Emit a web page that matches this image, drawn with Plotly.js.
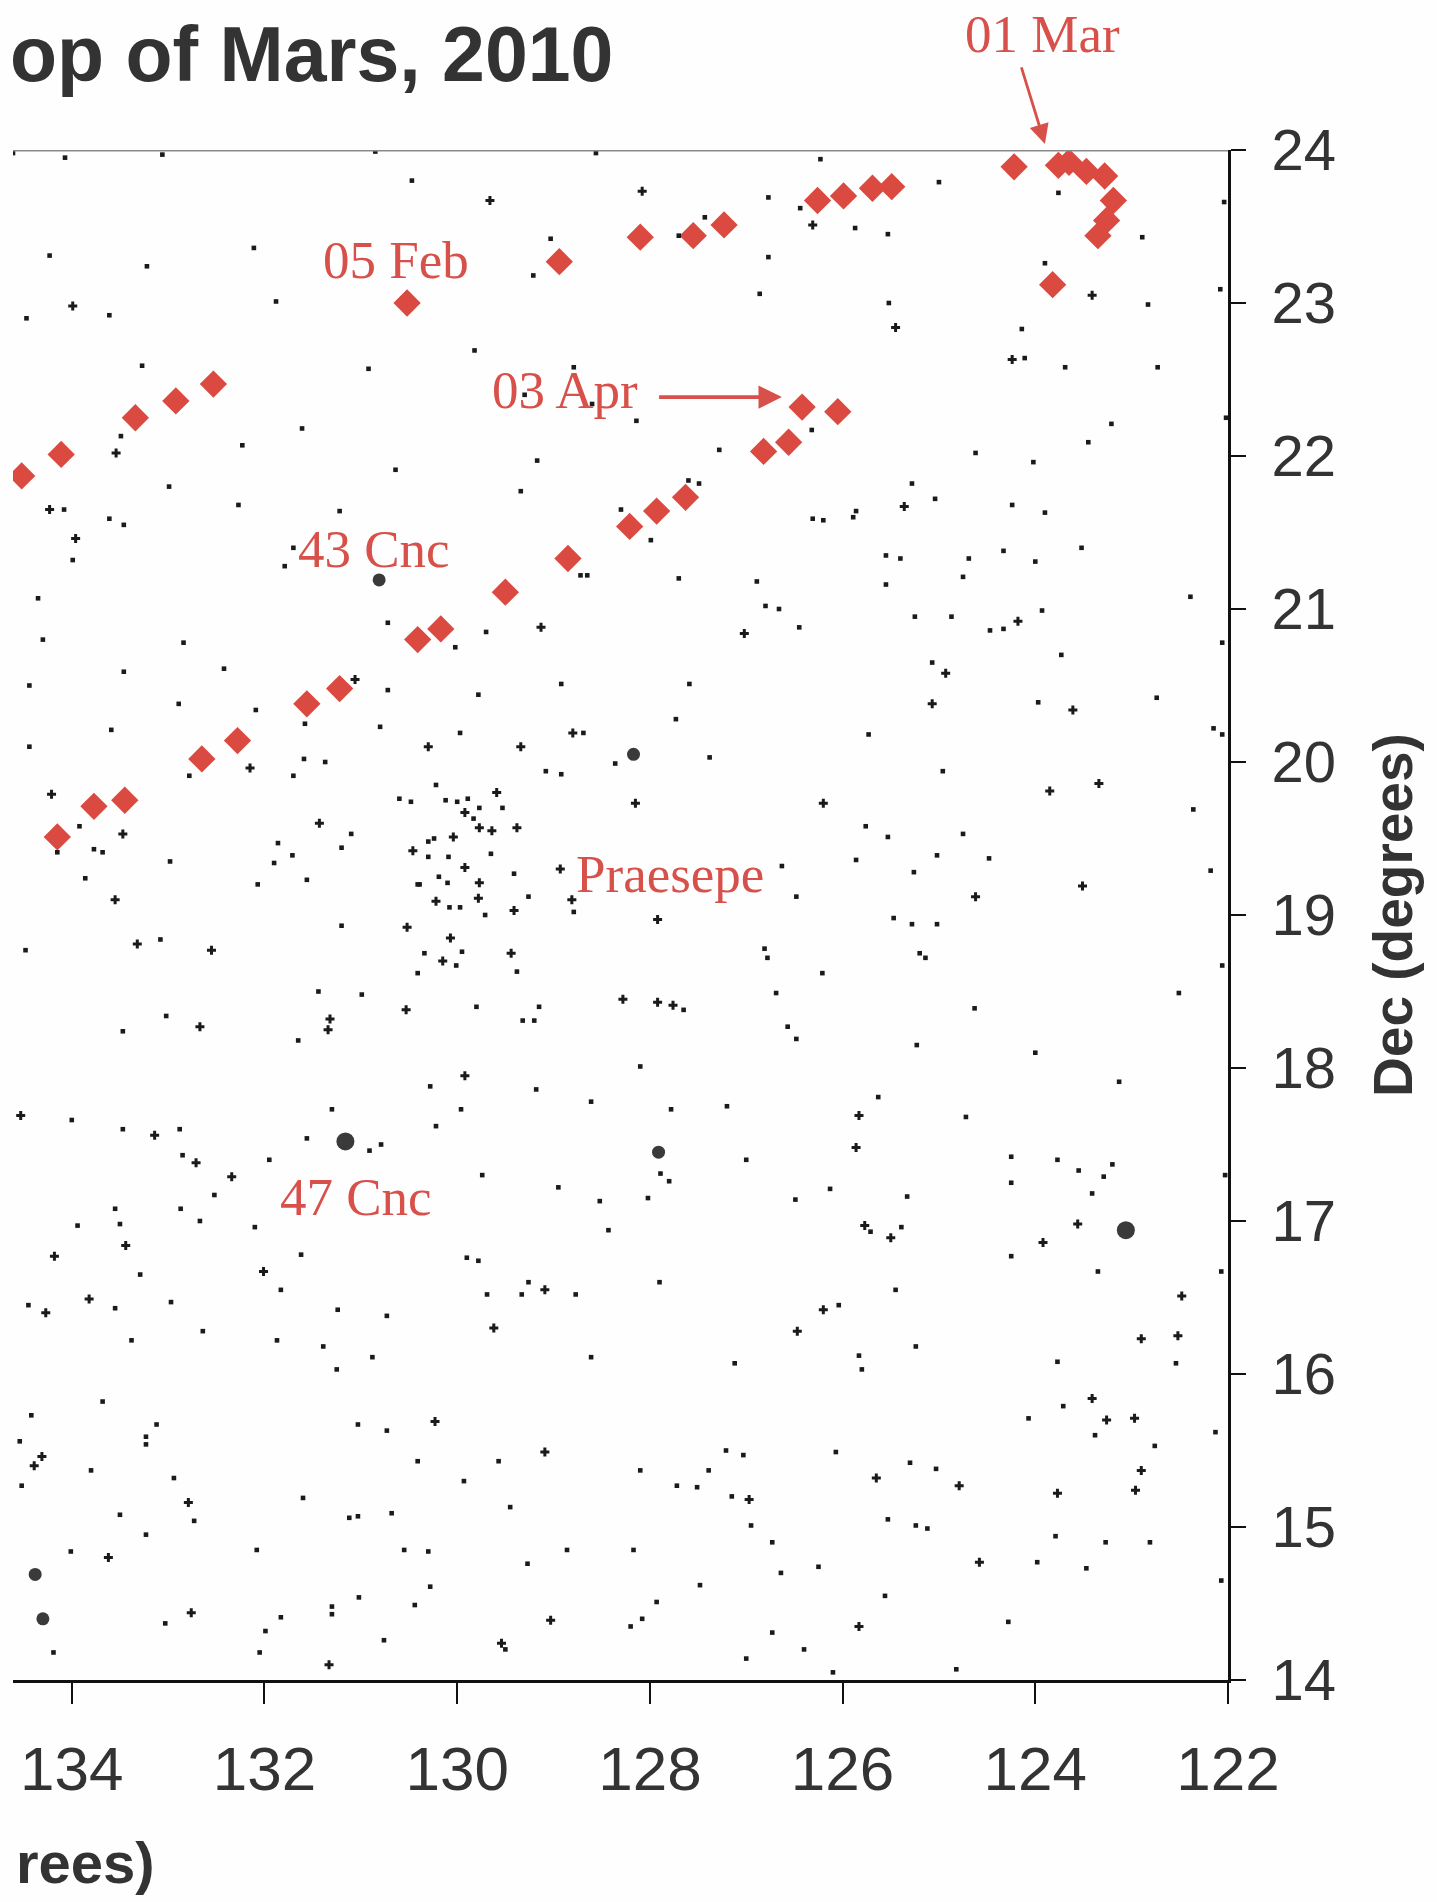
<!DOCTYPE html>
<html><head><meta charset="utf-8">
<script src="https://cdn.plot.ly/plotly-3.0.1.min.js"></script>
<style>html,body{margin:0;padding:0;background:#fefefe}</style>
</head><body><div id="chart" style="width:1437px;height:1902px"></div>
<script>
// Mars positions (RA deg, Dec deg)
const marsUpper = [[134.52,21.87],[134.11,22.01],[133.34,22.25],[132.92,22.36],[132.53,22.47],[130.52,23.00],[128.94,23.27],[128.10,23.43],[127.55,23.44],[127.23,23.51],[126.26,23.67],[125.99,23.70],[125.69,23.75],[125.49,23.76],[124.22,23.89],[123.76,23.90],[123.65,23.92],[123.47,23.86],[123.28,23.83],[123.19,23.67],[123.26,23.54],[123.35,23.44],[123.82,23.12]];
const marsLower = [[126.05,22.29],[126.42,22.32],[126.56,22.09],[126.82,22.03],[127.63,21.73],[127.93,21.64],[128.21,21.54],[128.85,21.33],[129.50,21.11],[130.17,20.87],[130.41,20.80],[131.22,20.48],[131.56,20.38],[132.28,20.14],[132.65,20.02],[133.45,19.75],[133.77,19.71],[134.15,19.51]];

// faint field stars
const faintStars = [
[134.61,23.98],[134.07,23.95],[133.06,23.97],[130.47,23.80],[134.23,23.31],[133.22,23.24],[132.11,23.36],[134.47,22.90],[133.61,22.92],[131.88,23.01],[133.27,22.59],[130.92,22.57],[131.61,22.18],[133.49,22.13],[132.23,22.07],[130.64,21.91],[132.99,21.80],[134.08,21.65],[132.27,21.68],[131.22,21.64],[133.61,21.59],[133.46,21.55],[133.99,21.32],[131.70,21.40],[131.79,21.28],[134.35,21.07],[134.30,20.80],[132.84,20.78],[130.72,20.91],[130.85,23.99],[128.56,23.98],
[126.77,23.69],[126.23,23.94],[126.44,23.62],[127.43,23.56],[127.70,23.44],[129.03,23.42],[129.21,23.18],[126.77,23.30],[126.86,23.06],[129.82,22.69],[128.79,22.58],[129.30,22.40],[128.60,22.34],[128.14,22.23],[126.32,22.17],[127.28,22.04],[129.17,21.97],[129.34,21.77],[127.60,21.84],[127.49,21.82],[128.30,21.65],[127.99,21.45],[126.31,21.59],[126.20,21.58],[128.72,21.22],[128.65,21.22],[127.70,21.20],[126.89,21.18],[126.80,21.02],[126.66,21.00],[129.70,20.85],[130.02,20.75],[126.45,20.88],
[125.00,23.79],[123.76,23.72],[122.04,23.66],[125.87,23.49],[125.53,23.45],[122.89,23.43],[123.90,23.26],[122.83,22.99],[122.08,23.09],[125.52,23.00],[124.14,22.83],[124.11,22.64],[123.69,22.58],[122.73,22.58],[122.02,22.25],[123.21,22.21],[123.45,22.09],[124.62,22.02],[124.02,21.96],[125.28,21.82],[125.04,21.72],[125.89,21.60],[125.86,21.64],[124.24,21.68],[123.90,21.63],[123.52,21.40],[125.55,21.35],[125.40,21.33],[124.69,21.33],[124.33,21.38],[124.00,21.31],[124.75,21.21],[125.55,21.16],[122.39,21.08],[125.25,20.95],[124.87,20.95],[123.93,20.99],[124.47,20.86],[124.33,20.87],[123.73,20.70],[122.06,20.78],
[134.44,20.50],[133.46,20.59],[132.42,20.61],[132.89,20.38],[132.09,20.34],[130.72,20.47],[130.80,20.23],[133.59,20.21],[134.44,20.10],[131.58,20.25],[132.78,19.91],[131.70,19.91],[131.59,20.02],[131.37,20.00],[133.92,19.58],[134.15,19.41],[133.77,19.43],[133.68,19.41],[132.98,19.35],[133.86,19.24],[131.10,19.53],[131.86,19.47],[131.20,19.44],[131.71,19.39],[131.90,19.34],[131.56,19.23],[132.07,19.20],[130.60,19.76],[130.48,19.74],[130.41,19.20],[131.20,18.93],[130.41,18.62],[134.48,18.77],[133.08,18.84],[131.44,18.50],[130.99,18.48],[133.02,18.34],[133.47,18.24],[131.65,18.18],[134.00,17.66],[133.47,17.60],[132.88,17.60],[132.85,17.43],[131.95,17.40],[131.30,17.73],[131.56,17.54],[130.91,17.46],[130.79,17.50],
[129.78,20.44],[128.92,20.51],[127.59,20.51],[127.73,20.28],[129.97,20.19],[128.69,20.19],[128.36,19.99],[127.38,20.03],[129.08,19.94],[128.92,19.92],[130.22,19.85],[130.12,19.75],[130.00,19.74],[129.89,19.76],[129.53,19.70],[129.77,19.70],[129.83,19.63],[130.30,19.48],[130.24,19.50],[130.30,19.38],[130.09,19.38],[129.65,19.40],[130.39,19.20],[130.19,19.25],[130.10,19.21],[129.41,19.27],[130.08,19.05],[129.97,19.05],[129.71,19.00],[129.26,19.12],[128.79,19.02],[126.63,19.32],[126.48,19.12],[130.34,18.75],[130.01,18.67],[129.95,18.76],[129.38,18.63],[126.81,18.78],[126.78,18.72],[126.21,18.62],[129.80,18.40],[129.15,18.40],[129.32,18.31],[129.20,18.31],[127.65,18.38],[126.69,18.49],[126.57,18.27],[126.48,18.19],[128.10,18.01],[130.28,17.88],[129.18,17.86],[128.61,17.78],[129.96,17.73],[130.22,17.62],[127.78,17.73],[127.20,17.75],[127.00,17.40],
[125.07,20.65],[123.97,20.39],[122.74,20.42],[122.15,20.22],[122.06,20.18],[125.73,20.18],[124.96,19.94],[122.36,19.69],[125.76,19.58],[125.53,19.51],[124.75,19.53],[125.86,19.36],[125.02,19.39],[124.48,19.37],[125.26,19.28],[122.18,19.29],[125.47,18.98],[125.28,18.94],[125.02,18.94],[125.20,18.75],[125.14,18.72],[122.06,18.67],[122.51,18.49],[124.63,18.39],[125.23,18.15],[124.00,18.10],[123.13,17.91],[125.63,17.81],[124.72,17.68],[124.25,17.42],[123.77,17.40],[123.20,17.37],[123.55,17.33],
[132.52,17.17],[133.55,17.08],[132.87,17.08],[133.94,16.97],[133.50,16.98],[132.67,17.00],[132.10,16.96],[133.29,16.65],[131.62,16.78],[131.83,16.55],[134.45,16.45],[133.55,16.43],[132.97,16.47],[133.38,16.22],[132.64,16.28],[131.87,16.22],[131.39,16.18],[131.24,16.42],[130.73,16.38],[130.88,16.11],[131.25,16.03],[133.68,15.82],[134.42,15.73],[134.54,15.56],[133.12,15.67],[133.23,15.59],[133.23,15.54],[133.80,15.37],[134.52,15.27],[132.94,15.32],[132.73,15.04],[133.50,15.08],[133.23,14.95],[134.01,14.84],[132.08,14.85],[131.60,15.19],[131.03,15.67],[130.73,15.63],[131.12,15.06],[131.03,15.07],[130.68,15.09],[130.55,14.85],[130.41,15.43],[134.19,14.18],[133.03,14.37],[131.83,14.41],[131.99,14.32],[132.05,14.18],[131.30,14.48],[131.30,14.43],[131.02,14.54],[130.44,14.49],[130.76,14.26],
[129.74,17.30],[128.95,17.22],[128.52,17.13],[128.02,17.15],[127.89,17.31],[127.80,17.26],[126.49,17.14],[128.43,16.94],[129.90,16.76],[129.78,16.74],[129.69,16.52],[129.33,16.52],[129.26,16.60],[128.77,16.52],[127.90,16.60],[128.61,16.11],[127.12,16.07],[129.57,15.43],[129.93,15.30],[129.45,15.13],[128.10,15.37],[127.72,15.27],[127.51,15.26],[127.39,15.37],[127.21,15.50],[127.03,15.47],[127.15,15.20],[126.95,15.01],[126.73,14.90],[126.64,14.70],[126.25,14.74],[130.30,14.84],[130.28,14.61],[129.27,14.76],[128.86,14.85],[128.17,14.85],[127.48,14.62],[127.93,14.51],[128.08,14.40],[128.20,14.35],[126.73,14.31],[126.40,14.20],[127.00,14.14],[129.50,14.20],
[126.13,17.21],[125.33,17.16],[124.25,17.25],[123.29,17.29],[123.41,17.18],[125.71,16.93],[125.39,16.96],[124.25,16.77],[123.35,16.67],[122.07,16.67],[125.45,16.55],[126.04,16.45],[122.54,16.07],[125.24,16.18],[125.83,16.12],[125.80,16.03],[123.77,16.08],[123.71,15.79],[124.07,15.71],[123.38,15.60],[122.76,15.53],[122.13,15.62],[126.07,15.49],[125.30,15.42],[125.03,15.38],[125.53,15.05],[125.24,15.01],[125.12,14.99],[123.79,14.94],[123.27,14.90],[122.81,14.90],[123.98,14.77],[123.47,14.73],[122.07,14.65],[125.56,14.55],[124.28,14.38],[124.82,14.07],[126.10,14.05],[122.03,17.30]
];

// slightly brighter field stars (small crosses)
const crossStars = [
[133.99,22.98],[133.54,22.02],[134.23,21.65],[133.96,21.46],
[129.66,23.67],[128.08,23.73],[126.31,23.51],[129.13,20.88],[127.02,20.84],
[123.41,23.05],[125.45,22.84],[124.24,22.63],[125.36,21.67],[124.18,20.92],
[131.06,20.54],[132.15,19.96],[134.21,19.79],[133.47,19.53],[133.55,19.10],[131.43,19.60],[130.46,19.42],[130.52,18.92],[133.32,18.81],[132.55,18.77],[130.53,18.38],[132.67,18.27],[131.32,18.32],[131.34,18.25],[134.53,17.69],[133.14,17.56],[132.71,17.38],
[128.80,20.19],[130.30,20.10],[129.34,20.10],[129.59,19.80],[129.92,19.67],[130.04,19.51],[129.77,19.57],[129.64,19.55],[129.38,19.57],[128.15,19.73],[129.92,19.31],[129.77,19.21],[128.93,19.30],[130.22,19.09],[129.78,19.11],[129.41,19.03],[128.81,19.10],[127.92,18.97],[126.20,19.73],[130.07,18.85],[130.15,18.70],[129.44,18.75],[128.28,18.45],[127.92,18.43],[127.76,18.41],[129.92,17.95],
[124.93,20.58],[125.07,20.38],[123.61,20.34],[123.85,19.81],[123.34,19.86],[124.62,19.12],[123.51,19.19],[125.83,17.69],[125.86,17.48],
[132.34,17.29],[133.44,16.84],[134.18,16.77],[132.01,16.67],[134.27,16.40],[133.82,16.49],[134.31,15.46],[134.39,15.40],[132.79,15.16],[133.62,14.80],[132.76,14.44],[131.33,14.10],
[129.09,16.55],[129.62,16.30],[126.20,16.42],[126.47,16.28],[130.23,15.69],[129.09,15.49],[126.97,15.18],[129.03,14.39],[129.54,14.24],
[125.77,16.97],[125.50,16.89],[123.56,16.98],[123.92,16.86],[122.48,16.51],[122.90,16.23],[122.52,16.25],[123.41,15.84],[123.26,15.70],[122.97,15.71],[125.65,15.32],[124.79,15.27],[122.90,15.37],[122.96,15.24],[123.77,15.22],[124.58,14.77],[125.83,14.35]
];

// bright stars (43 Cnc etc.) and brightest (47 Cnc etc.)
const brightStars = [[130.81,21.19],[128.17,20.05],[127.91,17.45],[134.38,14.69],[134.30,14.40]];
const brightestStars = [[131.16,17.52],[123.06,16.94]];

const xTicks = [134,132,130,128,126,124,122];
const yTicks = [14,15,16,17,18,19,20,21,22,23,24];

const RED = '#d8504a';
const INK = '#1a1a1a';
const SERIF = 'Liberation Serif, Times New Roman, serif';
const SANS = 'Liberation Sans, Arial, sans-serif';

const marsAll = marsUpper.concat(marsLower);
const traces = [
  {x: marsAll.map(p=>p[0]), y: marsAll.map(p=>p[1]), mode:'markers', type:'scatter',
   marker:{symbol:'diamond', size:21, color:'#db4a40', line:{width:0}}},
  {x: faintStars.map(p=>p[0]), y: faintStars.map(p=>p[1]), mode:'markers', type:'scatter',
   marker:{symbol:'square', size:4.6, color:INK, line:{width:0}}},
  {x: crossStars.map(p=>p[0]), y: crossStars.map(p=>p[1]), mode:'markers', type:'scatter',
   marker:{symbol:'cross', size:7.5, color:INK, line:{width:0}}},
  {x: brightStars.map(p=>p[0]), y: brightStars.map(p=>p[1]), mode:'markers', type:'scatter',
   marker:{symbol:'circle', size:13, color:'#3a3a3a', line:{width:0}}},
  {x: brightestStars.map(p=>p[0]), y: brightestStars.map(p=>p[1]), mode:'markers', type:'scatter',
   marker:{symbol:'circle', size:18, color:'#3a3a3a', line:{width:0}}}
];

function lab(text, x, y, yref){
  return {text:text, x:x, y:y, xref:'x', yref:yref||'y', showarrow:false, xanchor:'center', yanchor:'middle',
          font:{family:SERIF, size:53, color:RED}};
}

const layout = {
  width:1437, height:1902,
  margin:{l:13, r:209, t:150, b:222},
  paper_bgcolor:'#fefefe', plot_bgcolor:'#fefefe',
  showlegend:false, hovermode:false,
  xaxis:{range:[134.61,122], tickvals:xTicks, ticktext:xTicks.map(String), ticks:'outside', ticklen:21, tickwidth:2,
         tickcolor:'#111', showline:true, linewidth:3, linecolor:'#111', showgrid:false, zeroline:false,
         ticklabelstandoff:12, tickfont:{family:'Liberation Sans Narrow, Arial Narrow, '+SANS, size:62, color:'#333'}},
  yaxis:{range:[14,24], side:'right', tickvals:yTicks, ticktext:yTicks.map(String), ticks:'outside', ticklen:15, tickwidth:2,
         tickcolor:'#111', showline:true, linewidth:3, linecolor:'#111', showgrid:false, zeroline:false,
         ticklabelstandoff:14, tickfont:{family:SANS, size:58, color:'#333'},
         title:{text:'Dec (degrees)', standoff:39, font:{family:SANS, size:55, color:'#333', weight:'bold'}}},
  shapes:[{type:'line', xref:'paper', yref:'y', x0:0, x1:1, y0:24, y1:24, line:{color:'#8a8a8a', width:3}}],
  annotations:[
    {text:'op of Mars, 2010', xref:'paper', yref:'paper', x:-0.004, y:1.063, xanchor:'left', yanchor:'middle',
     showarrow:false, font:{family:SANS, size:77, color:'#333', weight:'bold'}},
    {text:'rees)', xref:'paper', yref:'paper', x:0.001, y:-0.1195, xanchor:'left', yanchor:'middle',
     showarrow:false, font:{family:SANS, size:58, color:'#333', weight:'bold'}},
    lab('01 Mar', 123.93, 1.076, 'paper'),
    lab('05 Feb', 130.63, 23.28),
    lab('03 Apr', 128.88, 22.43),
    lab('43 Cnc', 130.86, 21.39),
    lab('Praesepe', 127.79, 19.27),
    lab('47 Cnc', 131.05, 17.16),
    {text:'', x:123.90, y:1.004, xref:'x', yref:'paper', ax:-24, ay:-78, axref:'pixel', ayref:'pixel', showarrow:true,
     arrowhead:2, arrowsize:1.4, arrowwidth:2.8, arrowcolor:RED, standoff:0, startstandoff:0},
    {text:'', x:126.63, y:22.385, ax:127.92, ay:22.385, xref:'x', yref:'y', axref:'x', ayref:'y', showarrow:true,
     arrowhead:2, arrowsize:1.3, arrowwidth:3.6, arrowcolor:RED, standoff:0, startstandoff:0}
  ]
};

Plotly.newPlot('chart', traces, layout, {staticPlot:true, displayModeBar:false});
</script></body></html>
